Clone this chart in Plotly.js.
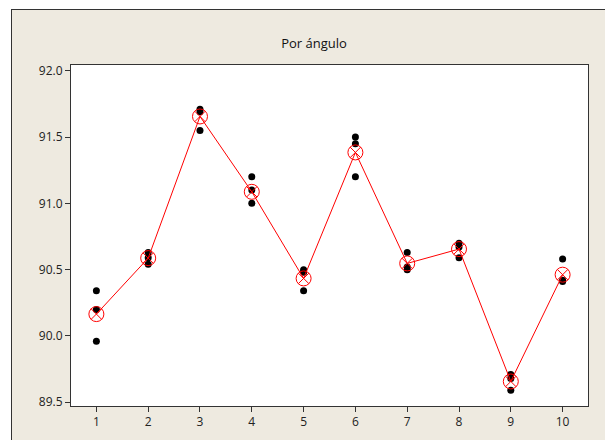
<!DOCTYPE html>
<html>
<head>
<meta charset="utf-8">
<script src="https://cdn.plot.ly/plotly-3.0.1.min.js"></script>
<style>
  html, body { margin: 0; padding: 0; background: #ffffff; }
  #wrap { position: relative; width: 605px; height: 440px; overflow: hidden; }
  #frame { position: absolute; left: 11px; top: 9px; width: 640px; height: 480px;
           background: #EEEAE0; border-left: 1px solid #333; border-top: 1px solid #333; }
  #chart { position: absolute; left: 0; top: 0; width: 605px; height: 440px; }
</style>
</head>
<body>
<div id="wrap">
  <div id="frame"></div>
  <div id="chart"></div>
</div>
<script>
// Categories (angle groups)
const categories = [1, 2, 3, 4, 5, 6, 7, 8, 9, 10];
const replicateA = [90.34, 90.63, 91.71, 91.20, 90.50, 91.50, 90.63, 90.70, 89.71, 90.58];
const replicateB = [90.20, 90.59, 91.69, 91.10, 90.48, 91.45, 90.52, 90.67, 89.68, 90.42];
const replicateC = [89.96, 90.54, 91.55, 91.00, 90.34, 91.20, 90.50, 90.59, 89.59, 90.41];
// Group means
const means = [90.165, 90.587, 91.655, 91.087, 90.434, 91.384, 90.547, 90.655, 89.657, 90.462];
const yTicks = [89.5, 90.0, 90.5, 91.0, 91.5, 92.0];
const yTickText = ['89.5', '90.0', '90.5', '91.0', '91.5', '92.0'];
const titleText = 'Por ángulo';

const obsX = [].concat(categories, categories, categories);
const obsY = [].concat(replicateA, replicateB, replicateC);

const traces = [
  {
    type: 'scatter', mode: 'markers', x: obsX, y: obsY,
    marker: { color: '#000000', size: 7, symbol: 'circle' },
    hoverinfo: 'x+y', showlegend: false
  },
  {
    type: 'scatter', mode: 'lines+markers', x: categories, y: means,
    line: { color: '#FF0000', width: 1 },
    marker: { symbol: 'circle-x-open', size: 15, color: '#FF0000', line: { color: '#FF0000', width: 1 } },
    showlegend: false
  }
];

const fontFam = '"Open Sans", "Noto Sans", sans-serif';
const layout = {
  width: 605, height: 440,
  margin: { l: 71, r: 17, t: 65, b: 34, pad: 0 },
  paper_bgcolor: 'rgba(0,0,0,0)',
  plot_bgcolor: '#ffffff',
  showlegend: false,
  title: {
    text: titleText,
    font: { family: fontFam, size: 13, color: '#111' },
    x: 314 / 605, xref: 'container', xanchor: 'center',
    y: 1 - 43 / 440, yref: 'container', yanchor: 'middle'
  },
  xaxis: {
    range: [0.51, 10.49],
    tickmode: 'array', tickvals: categories, ticktext: categories.map(String),
    ticks: 'outside', ticklen: 5, tickwidth: 1, tickcolor: '#333',
    showgrid: false, zeroline: false,
    showline: true, linecolor: '#333', linewidth: 1, mirror: true,
    tickfont: { family: fontFam, size: 12, color: '#222' }
  },
  yaxis: {
    range: [89.472, 92.043],
    tickmode: 'array', tickvals: yTicks, ticktext: yTickText,
    ticks: 'outside', ticklen: 5, tickwidth: 1, tickcolor: '#333',
    showgrid: false, zeroline: false,
    showline: true, linecolor: '#333', linewidth: 1, mirror: true,
    tickfont: { family: fontFam, size: 12, color: '#222' }
  }
};

Plotly.newPlot('chart', traces, layout, { displayModeBar: false, staticPlot: true });
</script>
</body>
</html>
